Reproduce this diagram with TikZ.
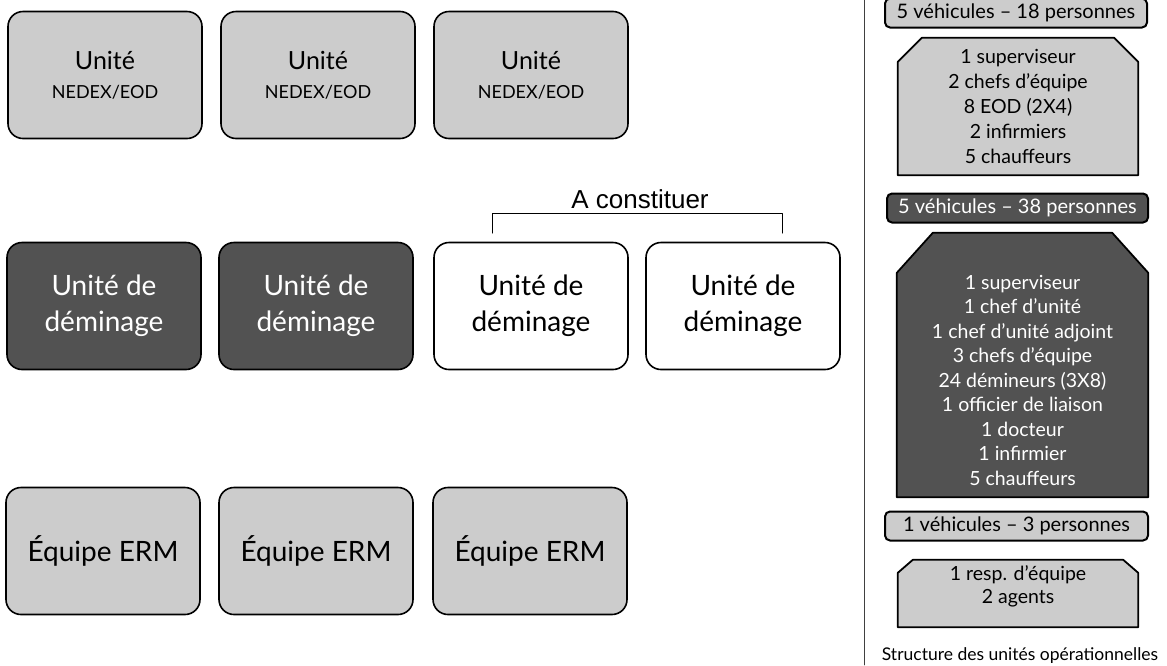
\documentclass[tikz,border=0pt]{standalone}
\usepackage{fontspec}
\setmainfont{Lato}
\newfontfamily\arialfont{Liberation Sans}

\tikzset{
  unitbox/.style={draw, line width=1.6pt, rounded corners=15pt, minimum width=194pt,
    minimum height=127pt, align=center, inner sep=0pt},
  lightbox/.style={unitbox, fill=black!20},
  darkbox/.style={unitbox, fill=black!68, text=white},
  openbox/.style={unitbox, fill=white},
  headbox/.style={draw, line width=2pt, rounded corners=5pt, minimum height=29pt,
    inner sep=0pt, font=\fontsize{20}{24}\selectfont},
  cutarea/.style={inner sep=0pt},
  cutline/.style={draw, line width=1.8pt},
  paneltext/.style={align=center, inner sep=0pt, font=\fontsize{19.5}{25}\selectfont}
}

\begin{document}
\begin{tikzpicture}[x=1pt, y=-1pt, line cap=round, line join=round]
  \useasboundingbox (0,0) rectangle (1167,665);

  % NEDEX/EOD units
  \foreach \n/\x in {1/105, 2/318, 3/531}
    \node[lightbox, font=\fontsize{18}{29}\selectfont] (eod\n) at (\x,75)
      {{\fontsize{25}{29}\selectfont Unité}\\NEDEX/EOD};

  % demining units
  \node[darkbox, font=\fontsize{28}{36}\selectfont] (dem1) at (104,306) {Unité de\\déminage};
  \node[darkbox, font=\fontsize{28}{36}\selectfont] (dem2) at (316,306) {Unité de\\déminage};
  \node[openbox, font=\fontsize{28}{36}\selectfont] (dem3) at (531,306) {Unité de\\déminage};
  \node[openbox, font=\fontsize{28}{36}\selectfont] (dem4) at (743,306) {Unité de\\déminage};

  % bracket over the units still to be formed
  \coordinate (brl) at (492,233);
  \coordinate (brr) at (782,233);
  \draw[line width=1pt] (brl) -- ++(0,-20) -| (brr);
  \node[anchor=base, inner sep=0pt, font=\arialfont\fontsize{26}{30}\selectfont]
    (tobuild) at (640,208) {A constituer};

  % ERM teams
  \foreach \n/\x in {1/103, 2/316, 3/530}
    \node[lightbox, font=\fontsize{28}{32}\selectfont] (erm\n) at (\x,551) {Équipe ERM};

  % side panel
  \coordinate (septop) at (864,0);
  \coordinate (sepbot) at (864,665);
  \draw[line width=0.8pt, black!75] (septop) -- (sepbot);

  \node[headbox, fill=black!20, minimum width=262pt] (head1) at (1016,13)
    {5 véhicules -- 18 personnes};
  \node[cutarea, minimum width=240pt, minimum height=137pt] (crew1) at (1018,106.5) {};

  \node[headbox, fill=black!68, text=white, minimum width=261pt] (head2) at (1017.5,208)
    {5 véhicules -- 38 personnes};
  \node[cutarea, minimum width=251pt, minimum height=264pt] (crew2) at (1022.5,365) {};

  \node[headbox, fill=black!20, minimum width=263pt] (head3) at (1016.5,526)
    {1 véhicules -- 3 personnes};
  \node[cutarea, minimum width=240pt, minimum height=67pt] (crew3) at (1018,593.5) {};

  % boxes with cut top corners
  \foreach \c/\dx/\dy/\col in {crew1/24/24/black!20, crew2/36/40/black!68, crew3/15/13/black!20}
    \draw[cutline, fill=\col] (\c.south west) -- ([yshift=-\dy pt]\c.north west)
      -- ([xshift=\dx pt]\c.north west) -- ([xshift=-\dx pt]\c.north east)
      -- ([yshift=-\dy pt]\c.north east) -- (\c.south east) -- cycle;

  \node[paneltext] (list1) at (crew1.center)
    {1 superviseur\\2 chefs d'équipe\\8 EOD (2X4)\\2 infirmiers\\5 chauffeurs};
  \node[paneltext, text=white, font=\fontsize{19.5}{24.5}\selectfont] (list2) at ([yshift=-15pt]crew2.center)
    {1 superviseur\\1 chef d'unité\\1 chef d'unité adjoint\\3 chefs d'équipe\\24 démineurs (3X8)\\1 officier de liaison\\1 docteur\\1 infirmier\\5 chauffeurs};
  \node[paneltext, font=\fontsize{19.5}{23}\selectfont] (list3) at ([yshift=7pt]crew3.center)
    {1 resp. d'équipe\\2 agents};

  \node[anchor=base, inner sep=0pt, font=\fontsize{17.5}{21}\selectfont] (caption) at (1020,660)
    {Structure des unités opérationnelles};
\end{tikzpicture}
\end{document}
